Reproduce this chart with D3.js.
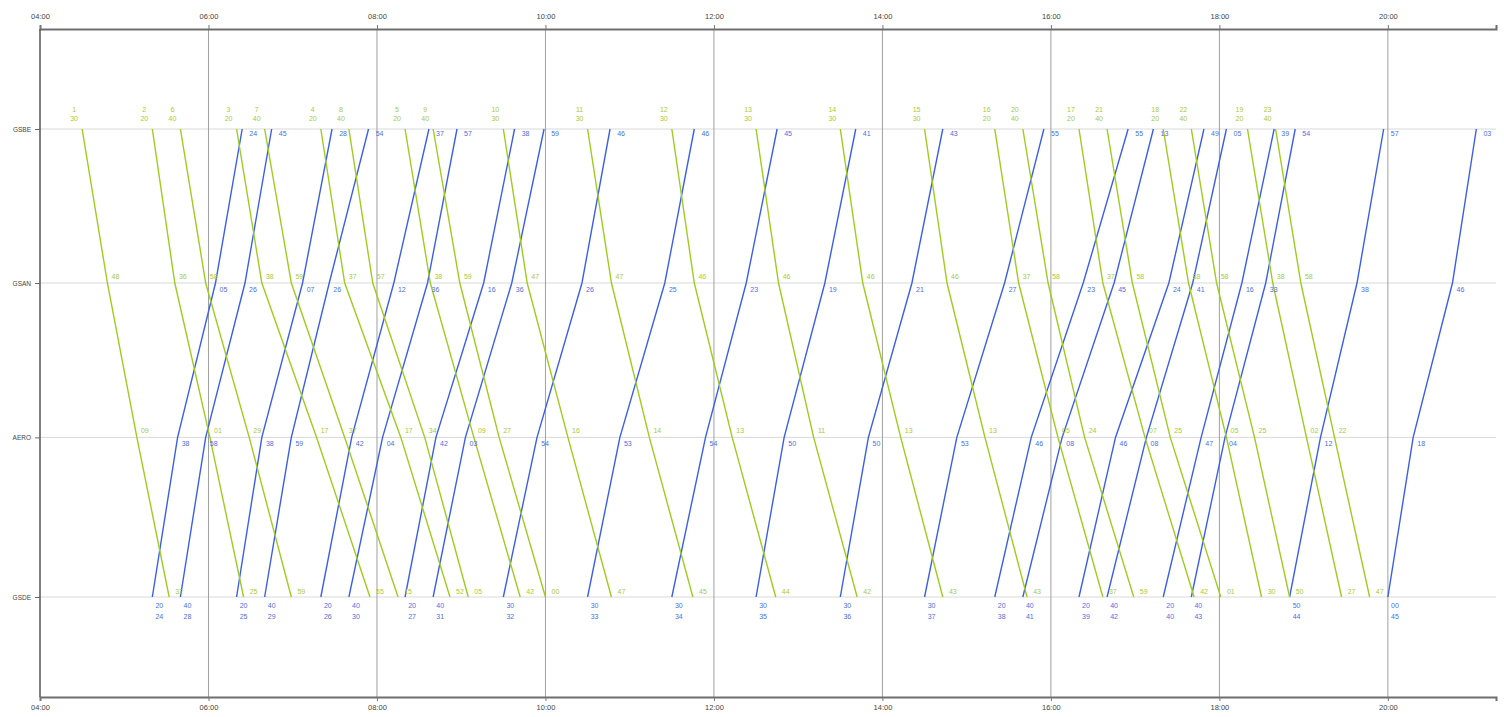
<!DOCTYPE html>
<html><head><meta charset="utf-8">
<script src="https://cdn.jsdelivr.net/npm/d3@7"></script>
<style>
body{margin:0;background:#fff;}
svg{display:block;}
text{font-family:Arial,"Liberation Sans",sans-serif;}
</style>
</head><body><svg id="chart" width="1504" height="717"></svg>
<script>
// ---------- data ----------
const stations = ["GSBE", "GSAN", "AERO", "GSDE"];
const stationKm = [0, 15.4, 30.84, 46.8];
const hourTicks = ["04:00","06:00","08:00","10:00","12:00","14:00","16:00","18:00","20:00"];
const timeStart = "04:00";
const timeEnd = "21:17";

// down trains (GSBE -> GSDE), times at GSBE, GSAN, AERO, GSDE
const downTrainNos = [1,2,6,3,7,4,8,5,9,10,11,12,13,14,15,16,20,17,21,18,22,19,23];
const downTimes = [
  ["04:30","04:48","05:09","05:32"],
  ["05:20","05:36","06:01","06:25"],
  ["05:40","05:58","06:29","06:59"],
  ["06:20","06:38","07:17","07:55"],
  ["06:40","06:59","07:37","08:15"],
  ["07:20","07:37","08:17","08:52"],
  ["07:40","07:57","08:34","09:05"],
  ["08:20","08:38","09:09","09:42"],
  ["08:40","08:59","09:27","10:00"],
  ["09:30","09:47","10:16","10:47"],
  ["10:30","10:47","11:14","11:45"],
  ["11:30","11:46","12:13","12:44"],
  ["12:30","12:46","13:11","13:42"],
  ["13:30","13:46","14:13","14:43"],
  ["14:30","14:46","15:13","15:43"],
  ["15:20","15:37","16:05","16:37"],
  ["15:40","15:58","16:24","16:59"],
  ["16:20","16:37","17:07","17:42"],
  ["16:40","16:58","17:25","18:01"],
  ["17:20","17:38","18:05","18:30"],
  ["17:40","17:58","18:25","18:50"],
  ["18:20","18:38","19:02","19:27"],
  ["18:40","18:58","19:22","19:47"]
];

// up trains (GSDE -> GSBE), times at GSDE, AERO, GSAN, GSBE
const upTrainNos = [24,28,25,29,26,30,27,31,32,33,34,35,36,37,38,41,39,42,40,43,44,45];
const upTimes = [
  ["05:20","05:38","06:05","06:24"],
  ["05:40","05:58","06:26","06:45"],
  ["06:20","06:38","07:07","07:28"],
  ["06:40","06:59","07:26","07:54"],
  ["07:20","07:42","08:12","08:37"],
  ["07:40","08:04","08:36","08:57"],
  ["08:20","08:42","09:16","09:38"],
  ["08:40","09:03","09:36","09:59"],
  ["09:30","09:54","10:26","10:46"],
  ["10:30","10:53","11:25","11:46"],
  ["11:30","11:54","12:23","12:45"],
  ["12:30","12:50","13:19","13:41"],
  ["13:30","13:50","14:21","14:43"],
  ["14:30","14:53","15:27","15:55"],
  ["15:20","15:46","16:23","16:55"],
  ["15:40","16:08","16:45","17:13"],
  ["16:20","16:46","17:24","17:49"],
  ["16:40","17:08","17:41","18:05"],
  ["17:20","17:47","18:16","18:39"],
  ["17:40","18:04","18:33","18:54"],
  ["18:50","19:12","19:38","19:57"],
  ["20:00","20:18","20:46","21:03"]
];

// ---------- drawing ----------
(function () {
const toMin = s => { const p = s.split(":").map(Number); return p[0]*60 + p[1]; };
const mm = s => s.split(":")[1];

const W = 1504, H = 717;
const mLeft = 40, mRight = 1496, mTop = 29, mBottom = 697;
const svg = d3.select("#chart");
svg.append("rect").attr("width", W).attr("height", H).attr("fill", "#fff");

const x = d3.scaleLinear().domain([toMin(timeStart), toMin(timeEnd)]).range([mLeft, mRight]);
const y = d3.scaleLinear().domain([-10, 56.8]).range([mTop, mBottom]);

const GREEN = "#9fcc1f", GREEN_T = "#a9c93a";
const BLUE = "#3b5fe6", BLUE_T = "#4e6fe0";

// station gridlines
svg.append("g").selectAll("line").data(stationKm).join("line")
  .attr("x1", mLeft).attr("x2", mRight)
  .attr("y1", d => y(d)).attr("y2", d => y(d))
  .attr("stroke", "#d9d9d9").attr("stroke-width", 1);

// hour gridlines
const tickVals = hourTicks.map(toMin);
svg.append("g").selectAll("line").data(tickVals.slice(1)).join("line")
  .attr("x1", d => x(d)).attr("x2", d => x(d))
  .attr("y1", mTop).attr("y2", mBottom)
  .attr("stroke", "#a0a0a0").attr("stroke-width", 1);

// axes
const fmt = d => hourTicks[tickVals.indexOf(d)];
const axTop = svg.append("g").attr("transform", `translate(0,${mTop})`)
  .call(d3.axisTop(x).tickValues(tickVals).tickFormat(fmt).tickSize(4).tickPadding(6));
const axBot = svg.append("g").attr("transform", `translate(0,${mBottom})`)
  .call(d3.axisBottom(x).tickValues(tickVals).tickFormat(fmt).tickSize(4).tickPadding(4));
[axTop, axBot].forEach(a => {
  a.select(".domain").attr("stroke", "#6e6e6e").attr("stroke-width", 2);
  a.selectAll(".tick line").attr("stroke", "#777");
  a.selectAll(".tick text").attr("font-size", 7.5).attr("fill", "#444");
});
const axLeft = svg.append("g").attr("transform", `translate(${mLeft},0)`)
  .call(d3.axisLeft(y).tickValues(stationKm).tickFormat((d,i) => stations[i]).tickSize(5).tickPadding(4));
axLeft.select(".domain").attr("stroke", "#555").attr("stroke-width", 1.5)
  .attr("d", `M0,${mTop}V${mBottom}`);
axLeft.selectAll(".tick line").attr("stroke", "#666");
axLeft.selectAll(".tick text").attr("font-size", 6.5).attr("fill", "#444");

// train lines
const line = d3.line().x(d => x(d[0])).y(d => y(d[1]));
const downData = downTimes.map((t, i) => ({ no: downTrainNos[i], pts: t.map((s, k) => [toMin(s), stationKm[k]]), t }));
const upKm = stationKm.slice().reverse();
const upData = upTimes.map((t, i) => ({ no: upTrainNos[i], pts: t.map((s, k) => [toMin(s), upKm[k]]), t }));

svg.append("g").selectAll("path").data(upData).join("path")
  .attr("d", d => line(d.pts)).attr("fill", "none")
  .attr("stroke", BLUE).attr("stroke-width", 1.4);
svg.append("g").selectAll("path").data(downData).join("path")
  .attr("d", d => line(d.pts)).attr("fill", "none")
  .attr("stroke", GREEN).attr("stroke-width", 1.4);

// labels
const lab = svg.append("g").attr("font-size", 7).attr("text-anchor", "middle");
function txt(tx, ty, s, c) {
  lab.append("text").attr("x", tx).attr("y", ty).attr("fill", c).text(s);
}
downData.forEach(d => {
  const p = d.pts;
  txt(x(p[0][0]) - 8, y(p[0][1]) - 17, d.no, GREEN_T);
  txt(x(p[0][0]) - 8, y(p[0][1]) - 8, mm(d.t[0]), GREEN_T);
  for (let k = 1; k < 3; k++) txt(x(p[k][0]) + 8, y(p[k][1]) - 4, mm(d.t[k]), GREEN_T);
  txt(x(p[3][0]) + 10, y(p[3][1]) - 3, mm(d.t[3]), GREEN_T);
});
upData.forEach(d => {
  const p = d.pts;
  txt(x(p[0][0]) + 7, y(p[0][1]) + 11, mm(d.t[0]), BLUE_T);
  txt(x(p[0][0]) + 7, y(p[0][1]) + 22, d.no, BLUE_T);
  for (let k = 1; k < 3; k++) txt(x(p[k][0]) + 8, y(p[k][1]) + 9, mm(d.t[k]), BLUE_T);
  txt(x(p[3][0]) + 11, y(p[3][1]) + 7, mm(d.t[3]), BLUE_T);
});
})();
</script>
</body></html>
